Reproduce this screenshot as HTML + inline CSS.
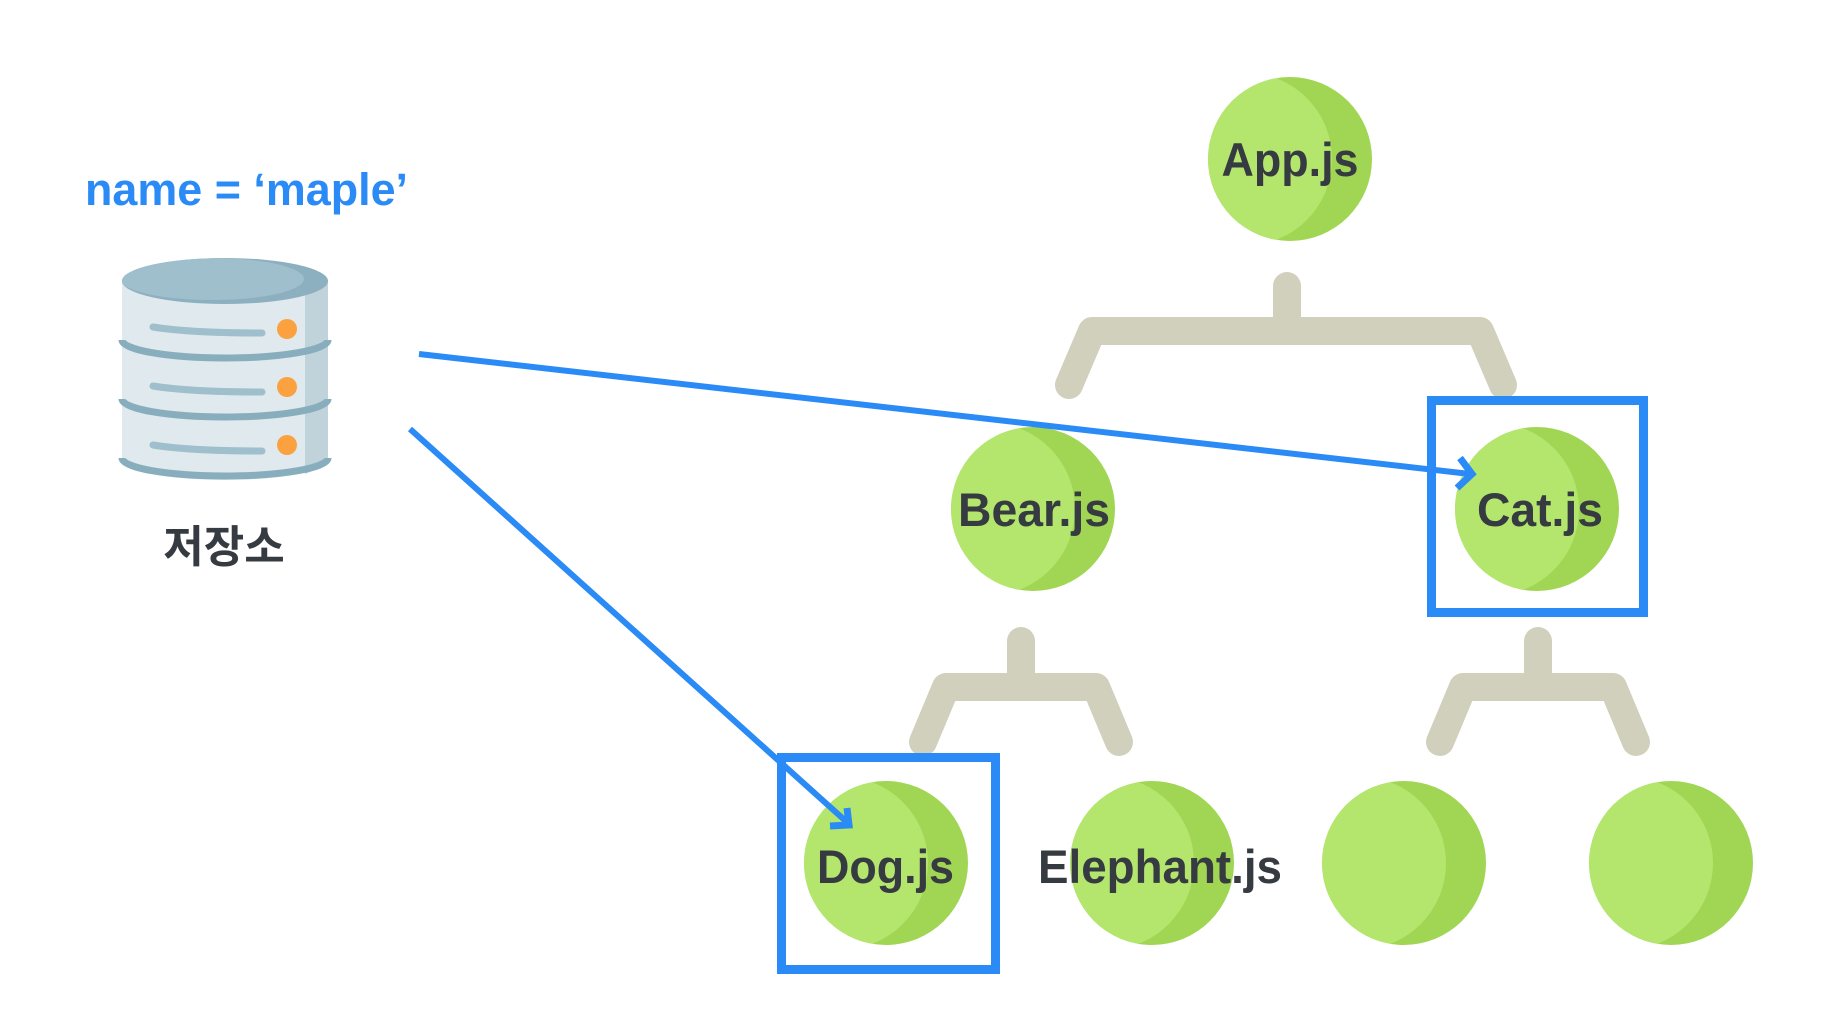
<!DOCTYPE html>
<html><head><meta charset="utf-8"><style>
html,body{margin:0;padding:0;background:#fff;}
svg{display:block;}
text{font-family:"Liberation Sans","Noto Sans CJK KR",sans-serif;font-weight:bold;}
</style></head><body>
<svg width="1834" height="1024" viewBox="0 0 1834 1024" xmlns="http://www.w3.org/2000/svg">
<defs>
<clipPath id="c1"><circle cx="1290" cy="159" r="82"/></clipPath>
<clipPath id="c2"><circle cx="1033" cy="509" r="82"/></clipPath>
<clipPath id="c3"><circle cx="1537" cy="509" r="82"/></clipPath>
<clipPath id="c4"><circle cx="886" cy="863" r="82"/></clipPath>
<clipPath id="c5"><circle cx="1152" cy="863" r="82"/></clipPath>
<clipPath id="c6"><circle cx="1404" cy="863" r="82"/></clipPath>
<clipPath id="c7"><circle cx="1671" cy="863" r="82"/></clipPath>
<clipPath id="top"><ellipse cx="225" cy="281" rx="103" ry="23"/></clipPath>
</defs>

<g fill="none" stroke="#d1d0bd" stroke-width="28" stroke-linecap="round" stroke-linejoin="round">
<polyline points="1069,385 1092,331 1480,331 1503,385"/>
<line x1="1287" y1="286" x2="1287" y2="331"/>
<polyline points="923,742 946,687 1096,687 1119,742"/>
<line x1="1021" y1="641" x2="1021" y2="687"/>
<polyline points="1440,742 1463,687 1613,687 1636,742"/>
<line x1="1538" y1="641" x2="1538" y2="687"/>
</g>

<g>
<circle cx="1290" cy="159" r="82" fill="#a0d653"/><circle cx="1245.5" cy="159" r="86.5" fill="#b4e66e" clip-path="url(#c1)"/>
<circle cx="1033" cy="509" r="82" fill="#a0d653"/><circle cx="988.5" cy="509" r="86.5" fill="#b4e66e" clip-path="url(#c2)"/>
<circle cx="1537" cy="509" r="82" fill="#a0d653"/><circle cx="1492.5" cy="509" r="86.5" fill="#b4e66e" clip-path="url(#c3)"/>
<circle cx="886" cy="863" r="82" fill="#a0d653"/><circle cx="841.5" cy="863" r="86.5" fill="#b4e66e" clip-path="url(#c4)"/>
<circle cx="1152" cy="863" r="82" fill="#a0d653"/><circle cx="1107.5" cy="863" r="86.5" fill="#b4e66e" clip-path="url(#c5)"/>
<circle cx="1404" cy="863" r="82" fill="#a0d653"/><circle cx="1359.5" cy="863" r="86.5" fill="#b4e66e" clip-path="url(#c6)"/>
<circle cx="1671" cy="863" r="82" fill="#a0d653"/><circle cx="1626.5" cy="863" r="86.5" fill="#b4e66e" clip-path="url(#c7)"/>
</g>

<g fill="#363b42" font-size="47">
<text x="1290" y="176" text-anchor="middle" textLength="137" lengthAdjust="spacingAndGlyphs">App.js</text>
<text x="1034" y="526" text-anchor="middle" textLength="152" lengthAdjust="spacingAndGlyphs">Bear.js</text>
<text x="1540" y="526" text-anchor="middle" textLength="126" lengthAdjust="spacingAndGlyphs">Cat.js</text>
<text x="817" y="883" textLength="137" lengthAdjust="spacingAndGlyphs">Dog.js</text>
<text x="1038" y="883" textLength="244" lengthAdjust="spacingAndGlyphs">Elephant.js</text>
</g>

<g fill="none" stroke="#2a8af6" stroke-width="9">
<rect x="1431.5" y="400.5" width="212" height="212"/>
<rect x="781.5" y="757.5" width="214" height="212"/>
</g>

<g fill="none" stroke="#2a8af6" stroke-width="6">
<line x1="419" y1="354" x2="1470" y2="474"/>
<polyline points="1460,458 1472,474 1457,488" stroke-width="7"/>
<line x1="410" y1="429" x2="849" y2="824"/>
<polyline points="847,808 849,825 830,826" stroke-width="7"/>
</g>

<text x="85" y="205" fill="#2a8af6" font-size="45" textLength="323" lengthAdjust="spacingAndGlyphs">name = ‘maple’</text>

<g>
<path d="M122,281 L122,460 A103,20 0 0 0 328,460 L328,281 Z" fill="#dfe9ee"/>
<path d="M305,281 L305,474 Q320,468 328,460 L328,281 Z" fill="#c0d3da"/>
<ellipse cx="225" cy="281" rx="103" ry="23" fill="#8cb0bf"/>
<ellipse cx="212" cy="279" rx="92" ry="21" fill="#9fbfcc" clip-path="url(#top)"/>
<g fill="none" stroke="#88aebd" stroke-width="7">
<path d="M122,340 A103,18 0 0 0 328,340"/>
<path d="M122,399 A103,18 0 0 0 328,399"/>
<path d="M122,458 A103,18 0 0 0 328,458"/>
</g>
<g stroke="#9fbfcc" stroke-width="7" stroke-linecap="round" fill="none">
<path d="M153,327 Q190,333 262,333"/>
<path d="M153,386 Q190,392 262,392"/>
<path d="M153,445 Q190,451 262,451"/>
</g>
<g fill="#fba13f">
<circle cx="287" cy="329" r="10"/>
<circle cx="287" cy="387" r="10"/>
<circle cx="287" cy="445" r="10"/>
</g>
</g>
<text x="224" y="562" text-anchor="middle" fill="#363b42" font-size="44">저장소</text>
</svg>
</body></html>
